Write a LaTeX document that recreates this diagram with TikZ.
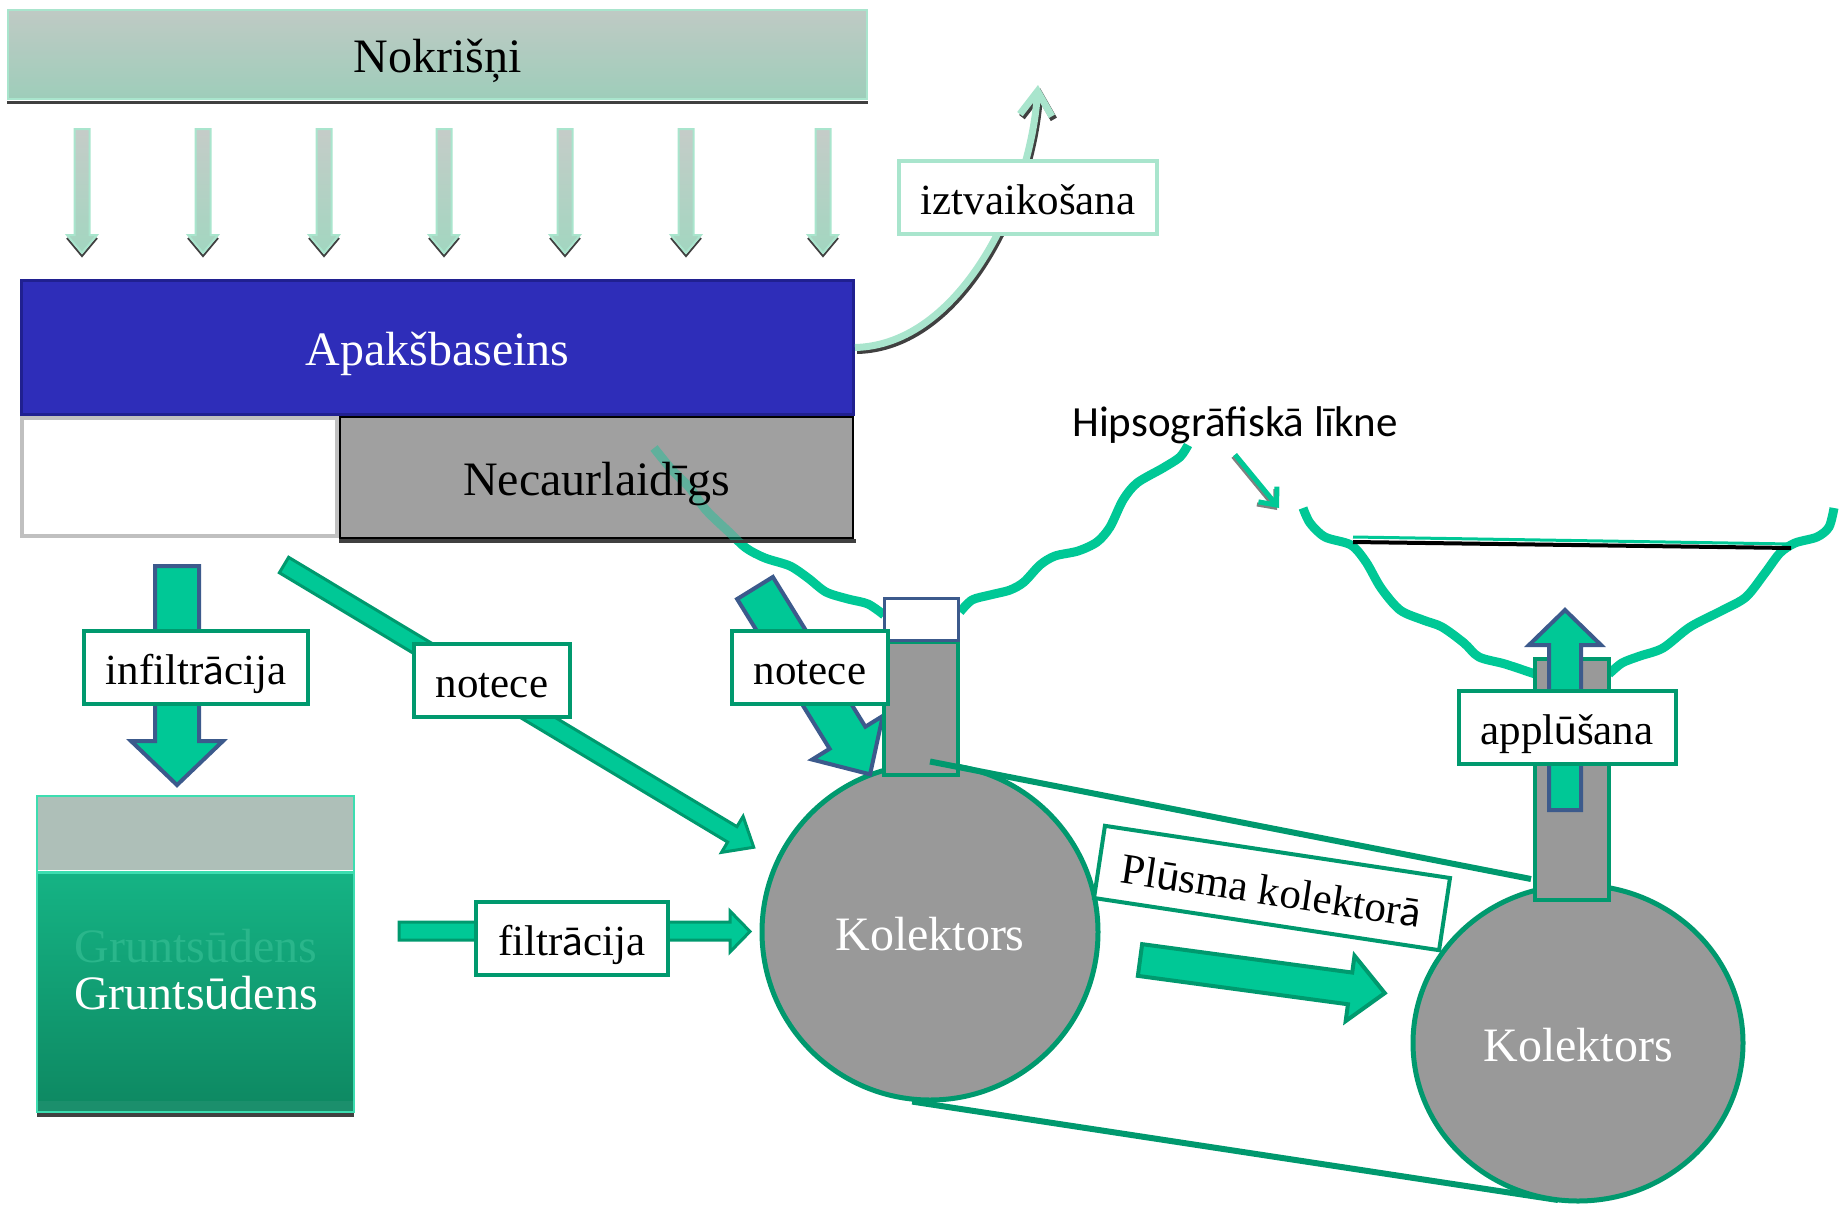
\documentclass[tikz,border=0pt]{standalone}
\usepackage{fontspec}
\setmainfont{Liberation Serif}
\newfontfamily\calibrifont{Carlito}
\usetikzlibrary{arrows.meta}
\usetikzlibrary{shapes.geometric}
\definecolor{rainMint}{HTML}{A9E5CD}
\definecolor{barTop}{HTML}{BFCAC4}
\definecolor{barBottom}{HTML}{9ECDBA}
\definecolor{rainTop}{HTML}{C5CCC8}
\definecolor{rainBottom}{HTML}{A2D6C0}
\definecolor{shadowGray}{HTML}{404040}
\definecolor{basinBlue}{HTML}{2E2DB9}
\definecolor{basinEdge}{HTML}{202090}
\definecolor{lightGray}{HTML}{C0C0C0}
\definecolor{rockGray}{HTML}{A0A0A0}
\definecolor{tealFill}{HTML}{00C896}
\definecolor{tealLine}{HTML}{00996E}
\definecolor{edgeBlue}{HTML}{3C5A8C}
\definecolor{tubeGray}{HTML}{999999}
\definecolor{groundGray}{HTML}{AEBFB8}
\definecolor{groundLight}{HTML}{3DDDB0}
\definecolor{groundTop}{HTML}{15B384}
\definecolor{groundBottom}{HTML}{0E8A63}
\definecolor{groundStrip}{HTML}{1B8F6C}
\definecolor{ghostGreen}{HTML}{2AB68B}

\begin{document}
\begin{tikzpicture}[x=1pt, y=-1pt]
\tikzstyle{bigText}=[font=\fontsize{48}{50}\selectfont, text height=36pt, text depth=0pt, inner sep=0pt]
\tikzstyle{labelStyle}=[draw=tealLine, line width=4pt, fill=white, font=\fontsize{43}{45}\selectfont, text height=35pt, text depth=0pt, inner xsep=22pt, inner ysep=0pt, minimum height=73pt]
\tikzstyle{evapLabelStyle}=[labelStyle, draw=rainMint]
\tikzstyle{rainStyle}=[draw=rainMint, line width=2pt, top color=rainTop, bottom color=rainBottom]
\tikzstyle{blockStyle}=[fill=tealFill, draw=tealLine, line width=3pt, line join=miter]
\tikzstyle{blueBlockStyle}=[blockStyle, draw=edgeBlue, line width=4pt]
\tikzstyle{curveStyle}=[draw=tealFill, line width=9pt]
\tikzstyle{collectorStyle}=[bigText, fill=tubeGray, draw=tealLine, line width=5pt, text=white]
\tikzstyle{neckStyle}=[fill=tubeGray, draw=tealLine, line width=4pt, inner sep=0pt, minimum width=74pt]
\tikzstyle{pipeStyle}=[draw=tealLine, line width=6pt]
\useasboundingbox (0,0) rectangle (1839,1205);
\draw[curveStyle] plot[smooth] coordinates {(654,448) (672,470) (689,487) (706,510) (730,533) (746,548) (765,558) (790,566) (808,578) (826,592) (848,599) (868,604) (884,615)};
\draw[curveStyle] plot[smooth] coordinates {(960,612) (972,600) (990,595) (1010,590) (1024,582) (1040,565) (1055,556) (1078,551) (1097,542) (1110,527) (1123,500) (1137,483) (1163,468) (1180,457) (1188,445)};
\draw[curveStyle] plot[smooth] coordinates {(1303,508) (1310,523) (1325,537) (1351,545) (1366,562) (1381,588) (1400,610) (1423,620) (1442,627) (1464,643) (1479,657) (1505,664) (1535,674)};
\draw[curveStyle] plot[smooth] coordinates {(1609,674) (1622,663) (1640,656) (1663,648) (1690,627) (1723,610) (1746,597) (1765,573) (1780,553) (1795,543) (1817,537) (1829,527) (1834,508)};
\draw[draw=black, line width=4pt] (1353,542) -- (1791,548);
\draw[draw=tealFill, line width=3pt] (1353,537) -- (1791,544);
\node[bigText, draw=rainMint, line width=2pt, top color=barTop, bottom color=barBottom, minimum width=859pt, minimum height=89pt] (rain) at (437.5,54.5) {Nokrišņi};
\draw[draw=shadowGray, line width=3pt] ([yshift=-2pt]rain.south west) -- ([yshift=-2pt]rain.south east);
\foreach \x in {82,203,324,444,565,686,823}{
  \draw[draw=shadowGray, line width=2pt] (\x-15,238) -- (\x,256) -- (\x+15,238);
  \path[rainStyle] (\x-7.5,129) -- (\x+7.5,129) -- (\x+7.5,235) -- (\x+15,235) -- (\x,253) -- (\x-15,235) -- (\x-7.5,235) -- cycle;
}
\node[bigText, fill=basinBlue, draw=basinEdge, line width=3pt, text=white, minimum width=832pt, minimum height=134pt] (basin) at (437.5,347.5) {Apakšbaseins};
\node[draw=lightGray, line width=4pt, fill=white, minimum width=315pt, minimum height=118pt, inner sep=0pt] (soil) at (179.5,477) {};
\draw[draw=shadowGray, line width=4pt] (339,541) -- (856,541);
\node[fill=rockGray, draw=black, line width=2pt, minimum width=513pt, minimum height=121pt, inner sep=0pt] (rock) at (596.5,477.5) {};
\begin{scope}
\clip (rock.south west) rectangle (rock.north east);
\draw[curveStyle, draw opacity=0.4] plot[smooth] coordinates {(654,448) (672,470) (689,487) (706,510) (730,533) (746,548) (765,558)};
\end{scope}
\node[bigText] (rockText) at (rock) {Necaurlaidīgs};
\coordinate (evapTip) at (1038,85);
\draw[draw=shadowGray, line width=7pt, -{Straight Barb[length=24pt, width=32pt]}] ([shift={(2,3)}]basin.east) .. controls (962,348) and (1032,203) .. ([shift={(2,3)}]evapTip);
\draw[draw=rainMint, line width=7pt, -{Straight Barb[length=24pt, width=32pt]}] (basin.east) .. controls (960,345) and (1030,200) .. (evapTip);
\node[evapLabelStyle] (evapLabel) at (1028,197) {iztvaikošana};
\node[font=\calibrifont\fontsize{43}{45}\selectfont, anchor=base, inner sep=0pt] (hipso) at (1235,436) {Hipsogrāfiskā līkne};
\coordinate (hipsoTip) at (1279,508);
\draw[draw=gray, line width=4pt, -{Straight Barb[length=14pt, width=24pt]}] ([shift={(-2,2)}]hipso.south) ++(0,11) -- ([shift={(-2,2)}]hipsoTip);
\draw[draw=tealFill, line width=5pt, -{Straight Barb[length=14pt, width=24pt]}] (hipso.south) ++(0,11) -- (hipsoTip);
\node[collectorStyle, circle, minimum size=336pt] (kol1) at (930,932) {Kolektors};
\coordinate (kol2Bottom) at (1558,1200);
\draw[pipeStyle] (kol1.264) -- (kol2Bottom);
\node[collectorStyle, ellipse, minimum width=330pt, minimum height=316pt] (kol2) at (1578,1043) {Kolektors};
\node[neckStyle, minimum height=241pt] (neck2) at (1572,779.5) {};
\begin{scope}[shift={(755,588)}, rotate=-58.3]
\path[blueBlockStyle] (0,-21) -- (176,-21) -- (176,-41.5) -- (219,0) -- (176,41.5) -- (176,21) -- (0,21) -- cycle;
\end{scope}
\node[neckStyle, minimum height=133pt] (neck1) at (921,708.5) {};
\node[draw=edgeBlue, line width=3pt, fill=white, minimum width=74pt, minimum height=42pt, inner sep=0pt] (neck1top) at (921,619) {};
\draw[pipeStyle] (kol1.north) -- ([xshift=-2pt, yshift=23pt]neck2.south west);
\node[labelStyle, rotate=-8.6, minimum width=349pt] (flowLabel) at (1272,888) {Pl{\calibrifont ū}sma kolektor{\calibrifont ā}};
\begin{scope}[shift={(1140,960)}, rotate=-7.7]
\path[blockStyle, line width=4pt] (0,-16) -- (212,-16) -- (212,-33) -- (247,0) -- (212,33) -- (212,16) -- (0,16) -- cycle;
\end{scope}
\path[blueBlockStyle] (1549,810) -- (1549,645) -- (1529,645) -- (1565,610) -- (1601,645) -- (1581,645) -- (1581,810) -- cycle;
\node[labelStyle] (floodLabel) at (1567,727) {appl{\calibrifont ū}šana};
\node[labelStyle] (runoffLabelB) at (810,667) {notece};
\fill[groundGray] (37,796) rectangle (354,870);
\draw[draw=groundLight, line width=3pt] (37,872) -- (354,872);
\shade[top color=groundTop, bottom color=groundBottom] (37,874) rectangle (354,1101);
\fill[groundStrip] (37,1101) rectangle (354,1112);
\draw[draw=shadowGray, line width=4pt] (37,1115) -- (354,1115);
\node[draw=groundLight, line width=2pt, minimum width=317pt, minimum height=316pt, inner sep=0pt] (ground) at (195.5,954) {};
\node[bigText, text=ghostGreen] (groundGhost) at (196,944) {Gruntsūdens};
\node[bigText, text=white] (groundText) at (196,991) {Grunts{\calibrifont ū}dens};
\path[blueBlockStyle] (155,566) -- (199,566) -- (199,741) -- (223,741) -- (177,785) -- (131,741) -- (155,741) -- cycle;
\node[labelStyle] (infilLabel) at (196,667) {infiltr{\calibrifont ā}cija};
\begin{scope}[shift={(284,565)}, rotate=-31]
\path[blockStyle] (0,-9) -- (523,-9) -- (523,-21) -- (548,0) -- (523,21) -- (523,9) -- (0,9) -- cycle;
\end{scope}
\node[labelStyle] (runoffLabelA) at (492,680) {notece};
\path[blockStyle] (399,922) -- (730,922) -- (730,911) -- (750,931.5) -- (730,952) -- (730,940) -- (399,940) -- cycle;
\node[labelStyle] (filtLabel) at (572,938) {filtr{\calibrifont ā}cija};
\end{tikzpicture}
\end{document}
